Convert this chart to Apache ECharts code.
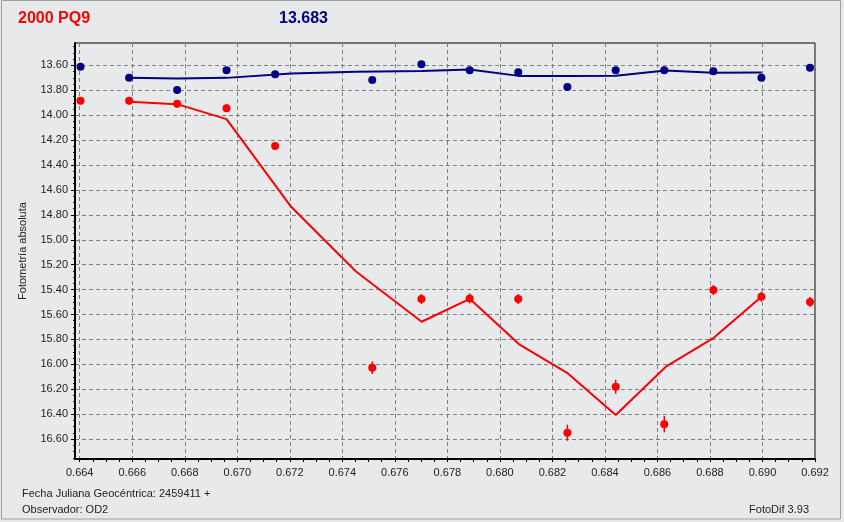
<!DOCTYPE html>
<html>
<head>
<meta charset="utf-8">
<script src="https://cdn.jsdelivr.net/npm/echarts@6/dist/echarts.min.js"></script>
<style>
html,body{margin:0;padding:0;background:#e8e9eb;}
#chart{width:844px;height:522px;}
</style>
</head>
<body>
<div id="chart"></div>
<script>
// ---- data ----
const xTicks = [0.664,0.666,0.668,0.670,0.672,0.674,0.676,0.678,0.680,0.682,0.684,0.686,0.688,0.690,0.692];
const yTicks = [13.6,13.8,14.0,14.2,14.4,14.6,14.8,15.0,15.2,15.4,15.6,15.8,16.0,16.2,16.4,16.6];

const obsTime = [0.66403,0.66588,0.66771,0.66959,0.67144,0.67514,0.67701,0.67885,0.68070,0.68257,0.68441,0.68626,0.68813,0.68996,0.69181];
const astMag  = [13.884,13.884,13.908,13.943,14.246,16.027,15.476,15.471,15.476,16.549,16.180,16.480,15.404,15.457,15.500];
const astErr  = [0.03,0.03,0.03,0.03,0.03,0.05,0.04,0.04,0.04,0.065,0.056,0.065,0.04,0.04,0.04];
const refMag  = [13.611,13.700,13.798,13.638,13.670,13.718,13.590,13.638,13.654,13.774,13.638,13.638,13.646,13.700,13.619];
const refErr  = [0.02,0.02,0.02,0.02,0.02,0.02,0.02,0.02,0.02,0.02,0.02,0.02,0.02,0.02,0.02];

const avgTime = [0.66588,0.66771,0.66959,0.67205,0.67452,0.67702,0.67885,0.68072,0.68259,0.68441,0.68632,0.68811,0.68997];
const astAvg  = [13.892,13.911,14.031,14.735,15.255,15.658,15.474,15.837,16.073,16.407,16.019,15.792,15.455];
const refAvg  = [13.700,13.706,13.700,13.665,13.650,13.645,13.632,13.684,13.684,13.683,13.641,13.659,13.657];

const titleName = '2000 PQ9';
const titleMag = '13.683';
const yName = 'Fotometría absoluta';
const footLeft1 = 'Fecha Juliana Geocéntrica: 2459411 +';
const footLeft2 = 'Observador: OD2';
const footRight = 'FotoDif 3.93';

// minor ticks derived from major ticks (4 subdivisions)
const xMinor = [];
for (let i = 0; i < xTicks.length - 1; i++) for (let k = 1; k < 4; k++) xMinor.push(+(xTicks[i] + k * 0.0005).toFixed(5));
const yMinor = [13.45, 13.5, 13.55];
for (let i = 0; i < yTicks.length - 1; i++) for (let k = 1; k < 4; k++) yMinor.push(+(yTicks[i] + k * 0.05).toFixed(3));
yMinor.push(16.65, 16.7, 16.75);

const X_MIN = 0.66382, X_MAX = 0.692, Y_MIN = 13.42, Y_MAX = 16.76;
const RED = '#ff0000', NAVY = '#000080';
const FONT = '"Liberation Sans", Arial, sans-serif';

function errBars(times, mags, errs, color) {
  return {
    type: 'custom', z: 4,
    data: times.map((t, i) => [t, mags[i], errs[i]]),
    renderItem: function (params, api) {
      const x = api.value(0), y = api.value(1), e = api.value(2);
      const p1 = api.coord([x, y - e]);
      const p2 = api.coord([x, y + e]);
      return { type: 'line', shape: { x1: p1[0], y1: p1[1], x2: p2[0], y2: p2[1] },
               style: { stroke: color, lineWidth: 1.5 } };
    }
  };
}

const chart = echarts.init(document.getElementById('chart'), null, { renderer: 'canvas' });
chart.setOption({
  animation: false,
  backgroundColor: '#e8e9eb',
  grid: { left: 75, right: 29, top: 43, bottom: 63, show: true, borderColor: '#000', borderWidth: 1, backgroundColor: 'transparent' },
  xAxis: [{
    type: 'value', min: X_MIN, max: X_MAX, position: 'bottom',
    axisLine: { show: true, lineStyle: { color: '#000', width: 2 } },
    axisTick: { show: true, customValues: xTicks, length: 3, lineStyle: { color: '#000' } },
    axisLabel: { customValues: xTicks, margin: 8, color: '#222', fontSize: 11, fontFamily: FONT,
                 formatter: v => v.toFixed(3) },
    splitLine: { show: true, lineStyle: { color: '#7f7f7f', type: [4, 3], width: 1 } }
  }, {
    type: 'value', min: X_MIN, max: X_MAX, position: 'bottom',
    axisLine: { show: false },
    axisTick: { show: true, customValues: xMinor, length: 3, lineStyle: { color: '#000' } },
    axisLabel: { show: false }, splitLine: { show: false }
  }],
  yAxis: [{
    type: 'value', inverse: true, min: Y_MIN, max: Y_MAX, position: 'left',
    axisLine: { show: true, lineStyle: { color: '#000', width: 2 } },
    axisTick: { show: true, customValues: yTicks, length: 4, lineStyle: { color: '#000' } },
    axisLabel: { customValues: yTicks, margin: 7, color: '#222', fontSize: 11, fontFamily: FONT,
                 formatter: v => v.toFixed(2) },
    splitLine: { show: true, lineStyle: { color: '#7f7f7f', type: [4, 3], width: 1 } }
  }, {
    type: 'value', inverse: true, min: Y_MIN, max: Y_MAX, position: 'left',
    axisLine: { show: false },
    axisTick: { show: true, customValues: yMinor, length: 2, lineStyle: { color: '#000' } },
    axisLabel: { show: false }, splitLine: { show: false }
  }],
  series: [
    { type: 'line', data: avgTime.map((t, i) => [t, refAvg[i]]), showSymbol: false, symbol: 'none',
      lineStyle: { color: NAVY, width: 2 }, z: 3 },
    { type: 'line', data: avgTime.map((t, i) => [t, astAvg[i]]), showSymbol: false, symbol: 'none',
      lineStyle: { color: RED, width: 2 }, z: 3 },
    errBars(obsTime, refMag, refErr, NAVY),
    errBars(obsTime, astMag, astErr, RED),
    { type: 'scatter', data: obsTime.map((t, i) => [t, refMag[i]]), symbol: 'circle', symbolSize: 8,
      itemStyle: { color: NAVY, opacity: 1 }, z: 5 },
    { type: 'scatter', data: obsTime.map((t, i) => [t, astMag[i]]), symbol: 'circle', symbolSize: 8,
      itemStyle: { color: RED, opacity: 1 }, z: 5 }
  ],
  graphic: [
    { type: 'rect', silent: true, z: -1, shape: { x: 1.5, y: 0.5, width: 839, height: 518.5 },
      style: { fill: null, stroke: '#a0a0a0', lineWidth: 1 } },
    { type: 'text', left: 18, top: 11, style: { text: titleName, fill: RED, font: 'bold 16px ' + FONT } },
    { type: 'text', left: 279, top: 11, style: { text: titleMag, fill: NAVY, font: 'bold 16px ' + FONT } },
    { type: 'text', x: 22.5, y: 251, rotation: Math.PI / 2,
      style: { text: yName, fill: '#222', font: '11px ' + FONT, align: 'center', verticalAlign: 'middle' } },
    { type: 'text', x: 22, y: 494, style: { text: footLeft1, fill: '#222', font: '11px ' + FONT, verticalAlign: 'middle' } },
    { type: 'text', x: 22, y: 510, style: { text: footLeft2, fill: '#222', font: '11px ' + FONT, verticalAlign: 'middle' } },
    { type: 'text', x: 809, y: 510, style: { text: footRight, fill: '#222', font: '11px ' + FONT, align: 'right', verticalAlign: 'middle' } }
  ]
});
</script>
</body>
</html>
